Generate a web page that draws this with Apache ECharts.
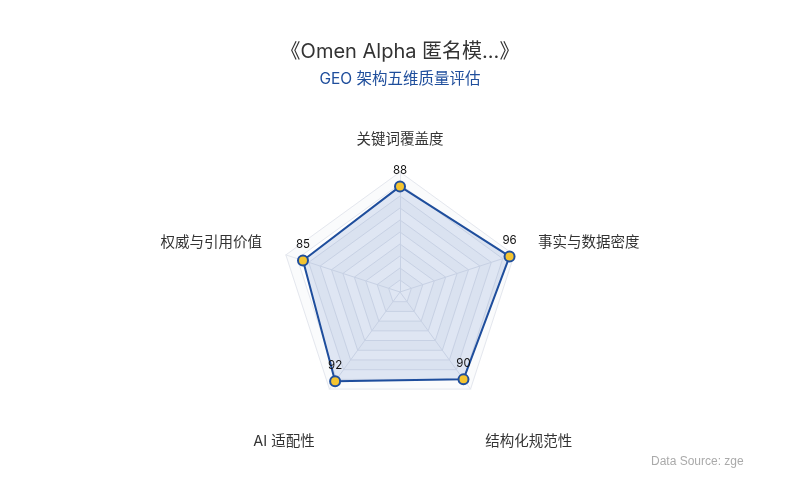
<!DOCTYPE html>
<html><head><meta charset="utf-8">
<script src="https://cdn.jsdelivr.net/npm/echarts@6/dist/echarts.min.js"></script>
<style>html,body{margin:0;padding:0;background:#fff}#c{width:800px;height:500px}</style>
</head><body><div id="c"></div>
<script>
// Order: top, then counter-clockwise (ECharts default direction) so that clockwise reads
// 关键词覆盖度 -> 事实与数据密度 -> 结构化规范性 -> AI 适配性 -> 权威与引用价值
const indicators = ['关键词覆盖度', '权威与引用价值', 'AI 适配性', '结构化规范性', '事实与数据密度'];
const values = [88, 85, 92, 90, 96];
const maxValue = 100;
const titleText = '《Omen Alpha 匿名模...》';
const subText = 'GEO 架构五维质量评估';
const sourceText = 'Data Source: zgeo.ai';

const bottomIdx = [2, 3];
const sideIdx = [1, 4];
const chart = echarts.init(document.getElementById('c'));
chart.setOption({
  backgroundColor: '#fff',
  textStyle: { fontFamily: 'Inter, "Noto Sans CJK SC", sans-serif' },
  title: {
    text: titleText, subtext: subText, left: 'center', top: 37, itemGap: 10,
    textStyle: { fontSize: 20, fontWeight: 'normal', color: '#333' },
    subtextStyle: { fontSize: 15.5, color: '#1f4e9c' }
  },
  graphic: [{
    type: 'text', left: 651, top: 456,
    style: { text: sourceText, fill: '#aaa', fontSize: 12, width: 100, overflow: 'truncate', ellipsis: '' }
  }],
  radar: {
    center: [400, 292], radius: 120, splitNumber: 10, startAngle: 90,
    indicator: indicators.map(n => ({ name: n, max: maxValue })),
    axisName: {
      color: '#333', fontSize: 14.5, lineHeight: 15,
      formatter: (name) => {
        const i = indicators.indexOf(name);
        if (bottomIdx.includes(i)) return '{b|' + name + '}';
        if (sideIdx.includes(i)) return '{s|' + name + '}';
        return '{n|' + name + '}';
      },
      rich: {
        b: { fontSize: 14.5, lineHeight: 15, color: '#333', padding: [64, 0, 0, 0] },
        s: { fontSize: 14.5, lineHeight: 15, color: '#333', padding: [0, 0, 10, 0] },
        n: { fontSize: 14.5, lineHeight: 15, color: '#333' }
      }
    },
    nameGap: 25,
    splitLine: { lineStyle: { color: '#e4e7ee', width: 1 } },
    splitArea: { areaStyle: { color: ['rgba(255,255,255,0)', 'rgba(246,247,250,0.5)'] } },
    axisLine: { lineStyle: { color: '#e4e7ee' } }
  },
  series: [{
    type: 'radar',
    symbol: 'circle', symbolSize: 10,
    lineStyle: { color: '#1f4e9c', width: 2 },
    itemStyle: { color: '#f4c430', borderColor: '#1f4e9c', borderWidth: 2 },
    areaStyle: { color: 'rgba(31,78,170,0.2)' },
    label: { show: true, position: 'top', color: '#111', fontSize: 11.5, distance: 4 },
    data: [{ value: values, name: 'Omen Alpha' }]
  }]
});
</script></body></html>
